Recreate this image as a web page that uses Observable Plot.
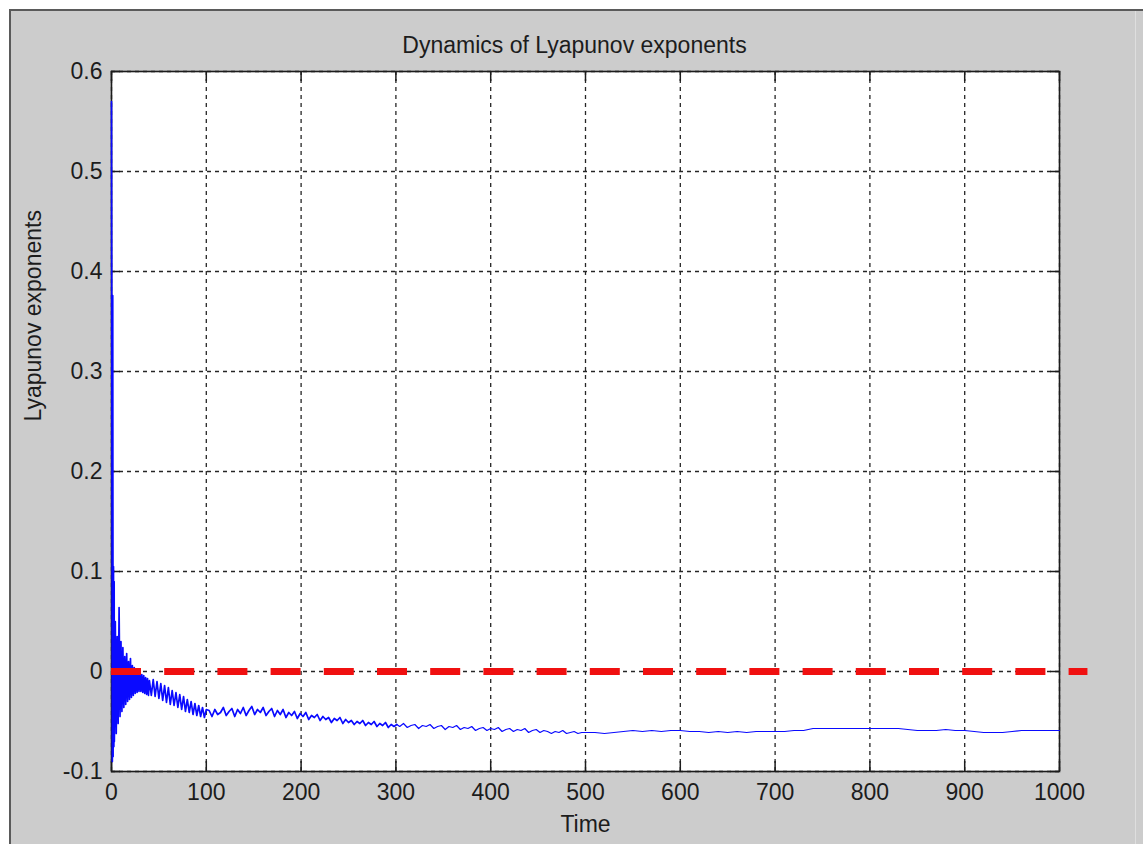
<!DOCTYPE html>
<html>
<head>
<meta charset="utf-8">
<script src="https://cdn.jsdelivr.net/npm/d3@7"></script>
<script src="https://cdn.jsdelivr.net/npm/@observablehq/plot@0.6"></script>
<style>
  html, body { margin: 0; padding: 0; background: #ffffff; }
  #figure { position: relative; width: 1143px; height: 844px; overflow: hidden; }
  #window {
    position: absolute; left: 9px; top: 9px; right: 0; bottom: 0;
    background: #cccccc;
    border-left: 2px solid #5a5a5a; border-top: 2px solid #5a5a5a;
  }
  #window::after {
    content: ""; position: absolute; top: 0; bottom: 0; left: 1124px; width: 1px; background: #dedede;
  }
  #chart { position: absolute; left: 0; top: 0; }
</style>
</head>
<body>
<div id="figure">
  <div id="window"></div>
  <div id="chart"></div>
</div>
<script>
// Axis ticks and labels
const xTicks = [0, 100, 200, 300, 400, 500, 600, 700, 800, 900, 1000];
const yTicks = [-0.1, 0, 0.1, 0.2, 0.3, 0.4, 0.5, 0.6];
const titleText = "Dynamics of Lyapunov exponents";
const xLabel = "Time";
const yLabel = "Lyapunov exponents";

// Largest Lyapunov exponent estimate over time, in segments of decreasing resolution
// Start-up transient
const startTimes  = [0, 0.9, 1.3, 1.7, 2.1, 2.5, 2.8];
const startValues = [0.57, -0.09, 0.376, -0.085, 0.105, -0.075, 0.09];

// Strong oscillation, t = 3 .. 40 (step 1)
const burstTimes = d3.range(3, 41, 1);
const burstValues = [
  -0.07, 0.05, -0.062, 0.035, -0.052, 0.064, -0.045, 0.03, -0.04, 0.024,
  -0.036, 0.015, -0.033, 0.018, -0.03, 0.01, -0.028, 0.013, -0.026, 0.006,
  -0.024, 0.004, -0.022, 0.002, -0.021, 0.0, -0.02, -0.002, -0.02, -0.003,
  -0.021, -0.004, -0.022, -0.006, -0.023, -0.007, -0.024, -0.009
];

// Settling band, t = 42 .. 100 (step 2)
const settleTimes = d3.range(42, 101, 2);
const settleValues = [
  -0.024, -0.008, -0.025, -0.010, -0.027, -0.012, -0.029, -0.014, -0.031, -0.016,
  -0.033, -0.019, -0.034, -0.021, -0.036, -0.023, -0.038, -0.025, -0.040, -0.028,
  -0.041, -0.030, -0.043, -0.032, -0.044, -0.034, -0.045, -0.036, -0.046, -0.038
];

// Slow drift with jitter, t = 103 .. 301 (step 3)
const driftTimes = d3.range(103, 302, 3);
const driftValues = [
  -0.039, -0.045, -0.038, -0.043, -0.041, -0.036, -0.044, -0.040, -0.037, -0.045,
  -0.038, -0.042, -0.036, -0.044, -0.039, -0.035, -0.043, -0.038, -0.041, -0.036,
  -0.044, -0.040, -0.037, -0.045, -0.039, -0.043, -0.038, -0.046, -0.041, -0.044,
  -0.040, -0.047, -0.042, -0.045, -0.041, -0.048, -0.044, -0.046, -0.043, -0.049,
  -0.045, -0.048, -0.046, -0.051, -0.047, -0.049, -0.046, -0.052, -0.048, -0.051,
  -0.049, -0.053, -0.050, -0.052, -0.049, -0.054, -0.051, -0.053, -0.050, -0.055,
  -0.052, -0.054, -0.051, -0.056, -0.053, -0.055, -0.053
];

// Fine jitter, t = 304 .. 500 (step 4)
const jitterTimes = d3.range(304, 501, 4);
const jitterValues = [
  -0.055, -0.052, -0.056, -0.054, -0.053, -0.057, -0.054, -0.055, -0.053, -0.057,
  -0.055, -0.054, -0.058, -0.055, -0.056, -0.054, -0.058, -0.056, -0.057, -0.055,
  -0.059, -0.057, -0.056, -0.059, -0.057, -0.058, -0.056, -0.060, -0.058, -0.057,
  -0.060, -0.058, -0.059, -0.057, -0.061, -0.059, -0.058, -0.061, -0.059, -0.060,
  -0.062, -0.060, -0.061, -0.059, -0.062, -0.061, -0.060, -0.062, -0.061, -0.061
];

// Converged tail, t = 510 .. 1000 (step 10)
const tailTimes = d3.range(510, 1001, 10);
const tailValues = [
  -0.061, -0.062, -0.061, -0.060, -0.059, -0.060, -0.059, -0.060, -0.059, -0.059,
  -0.060, -0.060, -0.061, -0.060, -0.061, -0.060, -0.061, -0.060, -0.060, -0.060,
  -0.060, -0.059, -0.059, -0.057, -0.057, -0.057, -0.057, -0.057, -0.057, -0.057,
  -0.057, -0.057, -0.057, -0.058, -0.059, -0.059, -0.059, -0.058, -0.059, -0.059,
  -0.060, -0.061, -0.061, -0.061, -0.060, -0.059, -0.059, -0.059, -0.059, -0.059
];

// Zero reference line, drawn a little past the end of the time axis
const zeroLevel = [{y: 0, from: 0, to: 1030}];

const segments = [
  [startTimes, startValues],
  [burstTimes, burstValues],
  [settleTimes, settleValues],
  [driftTimes, driftValues],
  [jitterTimes, jitterValues],
  [tailTimes, tailValues]
];
const series = segments.flatMap(([ts, vs]) => ts.map((t, i) => ({t, v: vs[i]})));
// the noisy early part is drawn a bit heavier than the settled tail
const noisyPart = series.filter(d => d.t <= 301);
const settledPart = series.filter(d => d.t >= 301);

const ink = "#1c1c1c";
const blue = "#0a0aff";
const gridStyle = {stroke: "#262626", strokeWidth: 1.3, strokeDasharray: "4,4"};

const chart = Plot.plot({
  width: 1143,
  height: 844,
  marginLeft: 111,
  marginRight: 84,
  marginTop: 71,
  marginBottom: 73,
  style: {
    background: "transparent",
    fontFamily: "'Liberation Sans', Arial, sans-serif",
    fontSize: "23px",
    color: ink,
    overflow: "visible"
  },
  x: {
    domain: [0, 1000],
    ticks: xTicks,
    tickSize: 0,
    tickPadding: 12,
    tickFormat: d => String(d),
    label: null
  },
  y: {
    domain: [-0.1, 0.6],
    ticks: yTicks,
    tickSize: 0,
    tickPadding: 9,
    tickFormat: d => String(d),
    label: null
  },
  marks: [
    // white axes area
    Plot.frame({fill: "white", stroke: null}),
    // dotted grid
    Plot.ruleX(xTicks, gridStyle),
    Plot.ruleY(yTicks, gridStyle),
    // inward tick marks on all four sides
    Plot.ruleX(xTicks, {stroke: ink, strokeWidth: 1.5, insetBottom: 690}),
    Plot.ruleX(xTicks, {stroke: ink, strokeWidth: 1.5, insetTop: 690}),
    Plot.ruleY(yTicks, {stroke: ink, strokeWidth: 1.5, insetRight: 939}),
    Plot.ruleY(yTicks, {stroke: ink, strokeWidth: 1.5, insetLeft: 939}),
    // axes box
    Plot.frame({stroke: ink, strokeWidth: 1.6}),
    // exponent estimate
    Plot.line(noisyPart, {x: "t", y: "v", stroke: blue, strokeWidth: 1.7}),
    Plot.line(settledPart, {x: "t", y: "v", stroke: blue, strokeWidth: 1.2}),
    // zero reference
    Plot.ruleY(zeroLevel, {
      y: "y", x1: "from", x2: "to",
      stroke: "#f01010", strokeWidth: 7, strokeDasharray: "30,23.2"
    }),
    // title and axis labels
    Plot.text([titleText], {
      frameAnchor: "top", lineAnchor: "bottom", dy: -19, dx: -11,
      fill: ink, fontSize: 23
    }),
    Plot.text([xLabel], {
      frameAnchor: "bottom", lineAnchor: "bottom", dy: 60,
      fill: ink, fontSize: 23
    }),
    Plot.text([yLabel], {
      frameAnchor: "left", rotate: -90, dx: -78,
      fill: ink, fontSize: 23
    })
  ]
});

document.getElementById("chart").appendChild(chart);
</script>
</body>
</html>
